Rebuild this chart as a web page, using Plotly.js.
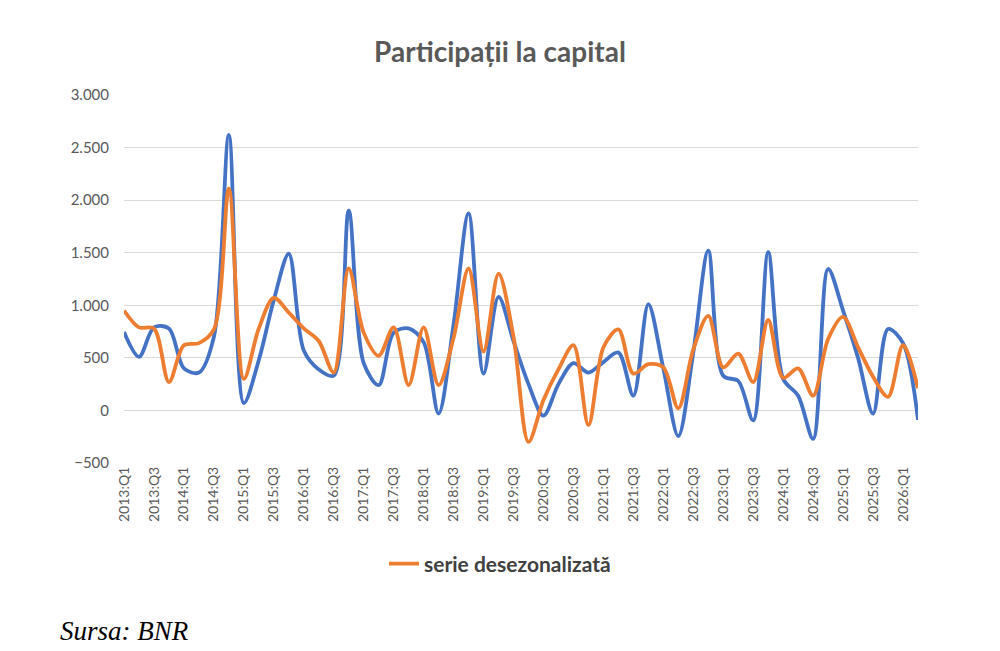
<!DOCTYPE html>
<html>
<head>
<meta charset="utf-8">
<script src="https://cdn.plot.ly/plotly-3.0.1.min.js"></script>
<style>
  html, body { margin: 0; padding: 0; background: #ffffff; }
  #chart { width: 1000px; height: 651px; }
</style>
</head>
<body>
<div id="chart"></div>
<script>
// quarterly data, 2013:Q1 .. 2026:Q2
const quarters = [
  "2013:Q1", "2013:Q2", "2013:Q3", "2013:Q4",
  "2014:Q1", "2014:Q2", "2014:Q3", "2014:Q4",
  "2015:Q1", "2015:Q2", "2015:Q3", "2015:Q4",
  "2016:Q1", "2016:Q2", "2016:Q3", "2016:Q4",
  "2017:Q1", "2017:Q2", "2017:Q3", "2017:Q4",
  "2018:Q1", "2018:Q2", "2018:Q3", "2018:Q4",
  "2019:Q1", "2019:Q2", "2019:Q3", "2019:Q4",
  "2020:Q1", "2020:Q2", "2020:Q3", "2020:Q4",
  "2021:Q1", "2021:Q2", "2021:Q3", "2021:Q4",
  "2022:Q1", "2022:Q2", "2022:Q3", "2022:Q4",
  "2023:Q1", "2023:Q2", "2023:Q3", "2023:Q4",
  "2024:Q1", "2024:Q2", "2024:Q3", "2024:Q4",
  "2025:Q1", "2025:Q2", "2025:Q3", "2025:Q4",
  "2026:Q1", "2026:Q2"
];

// labels shown on the axis (every second quarter)
const tickLabels = [
  "2013:Q1", "2013:Q3", "2014:Q1", "2014:Q3", "2015:Q1", "2015:Q3",
  "2016:Q1", "2016:Q3", "2017:Q1", "2017:Q3", "2018:Q1", "2018:Q3",
  "2019:Q1", "2019:Q3", "2020:Q1", "2020:Q3", "2021:Q1", "2021:Q3",
  "2022:Q1", "2022:Q3", "2023:Q1", "2023:Q3", "2024:Q1", "2024:Q3",
  "2025:Q1", "2025:Q3", "2026:Q1"
];

// raw series (blue)
const serieBruta = [
  745, 510, 790, 780, 400, 360, 700, 2620,
  70, 480, 1050, 1490, 570, 390, 330, 1900,
  450, 240, 740, 780, 650, -30, 820, 1875,
  350, 1080, 660, 250, -50, 250, 450, 360,
  460, 550, 140, 1010, 400, -245, 550, 1520,
  330, 280, -95, 1505, 300, 140, -270, 1345,
  950, 500, -30, 775, 640, -90
];

// seasonally adjusted series (orange)
const serieDesezonalizata = [
  950, 790, 780, 270, 620, 640, 770, 2110,
  300, 780, 1070, 930, 780, 660, 360, 1350,
  740, 520, 790, 240, 790, 240, 690, 1350,
  560, 1300, 700, -300, 100, 390, 620, -140,
  600, 770, 350, 440, 410, 20, 580, 900,
  410, 540, 270, 860, 310, 400, 140, 680,
  890, 600, 320, 130, 620, 210
];

const FONT = "Lato, 'Open Sans', sans-serif";
const GREY = "#595959";
const GRID = "#d9d9d9";

const data = [
  {
    type: "scatter",
    mode: "lines",
    name: "serie brută",
    x: quarters,
    y: serieBruta,
    line: { color: "#4472C4", width: 3.8, shape: "spline", smoothing: 0.9 },
    showlegend: false,
  },
  {
    type: "scatter",
    mode: "lines",
    name: "serie desezonalizată",
    x: quarters,
    y: serieDesezonalizata,
    line: { color: "#ED7D31", width: 3.8, shape: "spline", smoothing: 0.9 },
  },
];

const layout = {
  width: 1000,
  height: 651,
  paper_bgcolor: "#ffffff",
  plot_bgcolor: "#ffffff",
  separators: ",.",
  margin: { l: 124, r: 82, t: 95, b: 188 },
  font: { family: FONT, color: GREY, size: 14 },
  title: {
    text: "Participații la capital",
    font: { family: FONT, size: 28, color: GREY, weight: "bold" },
    x: 0.5,
    xref: "container",
    y: 0.92,
    yref: "container",
    yanchor: "middle",
  },
  xaxis: {
    type: "category",
    range: [0, quarters.length - 1],
    tickmode: "array",
    tickvals: tickLabels,
    ticktext: tickLabels,
    tickangle: -90,
    ticks: "",
    showgrid: false,
    showline: false,
    zeroline: false,
    tickfont: { family: FONT, size: 14, color: GREY },
  },
  // horizontal line at zero with its own tick marks
  xaxis2: {
    overlaying: "x",
    anchor: "free",
    position: 500 / 3500,
    range: [0, quarters.length - 1],
    tick0: 0,
    dtick: 1.5,
    ticks: "inside",
    ticklen: 5,
    tickcolor: GRID,
    tickwidth: 1,
    showticklabels: false,
    showgrid: false,
    zeroline: false,
    showline: true,
    linecolor: GRID,
    linewidth: 1,
  },
  yaxis: {
    range: [-500, 3000],
    dtick: 500,
    tickformat: ",.0f",
    showgrid: true,
    gridcolor: GRID,
    gridwidth: 1,
    zeroline: false,
    showline: false,
    ticks: "",
    ticklabelstandoff: 14,
    tickfont: { family: FONT, size: 15, color: GREY },
  },
  legend: {
    orientation: "h",
    xref: "container",
    yref: "container",
    x: 0.5,
    xanchor: "center",
    y: 1 - 564 / 651,
    yanchor: "middle",
    font: { family: FONT, size: 21, color: "#404040", weight: "bold" },
    bgcolor: "rgba(0,0,0,0)",
  },
  annotations: [
    {
      text: "Sursa: BNR",
      xref: "paper",
      yref: "paper",
      x: (58 - 124) / 794,
      xanchor: "left",
      y: (462.6 - 631) / 367.9,
      yanchor: "middle",
      showarrow: false,
      font: { family: "'Liberation Serif', 'DejaVu Serif', serif", size: 27, color: "#000000", style: "italic" },
    },
  ],
};

Plotly.newPlot("chart", data, layout, { staticPlot: true, displayModeBar: false });
</script>
</body>
</html>
